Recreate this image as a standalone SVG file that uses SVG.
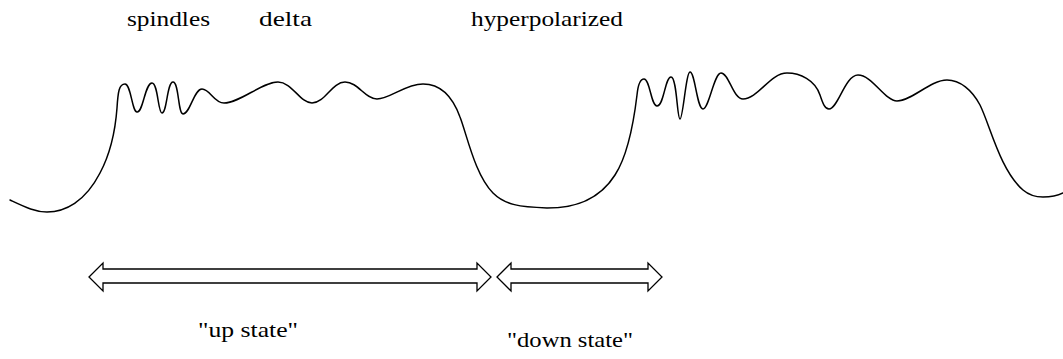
<svg xmlns="http://www.w3.org/2000/svg" width="1063" height="359" viewBox="0 0 1063 359">
<style>
text{font-family:"Times New Roman","Liberation Serif","DejaVu Serif",serif;font-size:22px;fill:#000}
.wave{fill:none;stroke:#000;stroke-width:1.5;stroke-linejoin:round;stroke-linecap:round}
.arr{fill:#fff;stroke:#000;stroke-width:1.3;stroke-linejoin:miter}
</style>
<rect width="1063" height="359" fill="#fff"/>
<g id="trace">
<path class="wave" d="M10,200 C25,207 35,212 47,212 C65,212 85,202 100,173 C108,158 115,135 117,108 C118,92 119,84 125,84 C131,84 132,112 137,112 C143,113 145,83 152,83 C158,83 158,113 162,113 C167,113 167,82 173,82 C179,82 178,114 183,114 C190,114 194,89 202,89 C210,89 214,103 224,103 C240,103 262,82 278,82 C292,82 300,103 312,103 C325,103 332,82 345,82 C358,82 365,99 377,99 C390,99 405,84 423,84 C440,84 452,95 460,117 C467,135 475,175 493,193 C505,205 520,207 547,208 C572,208 598,202 615,175 C628,155 634,120 637,95 C638,85 640,79 644,79 C650,79 651,106 657,106 C664,106 665,77 671,77 C677,77 677,119 680,119 C683,119 686,72 690,72 C695,72 697,109 703,109 C709,109 714,73 721,73 C729,73 733,99 743,99 C758,99 770,73 787,73 C800,73 815,80 820,95 C823,104 825,109 829,109 C838,109 845,75 858,75 C872,75 885,101 897,101 C912,101 930,80 947,80 C960,80 972,90 980,105 C990,125 1000,170 1023,190 C1030,196 1036,197 1043,197 C1050,197 1057,196 1063,193"/>
</g>
<g id="label-spindles"><text x="127" y="26" textLength="83" lengthAdjust="spacingAndGlyphs">spindles</text></g>
<g id="label-delta"><text x="259" y="26" textLength="53" lengthAdjust="spacingAndGlyphs">delta</text></g>
<g id="label-hyperpolarized"><text x="471" y="26" textLength="152" lengthAdjust="spacingAndGlyphs">hyperpolarized</text></g>
<g id="connectors">
<polygon id="arrow-up" class="arr" points="89,277 103,263 103,269 477,269 477,263 491,277 477,291 477,283 103,283 103,291"/>
<polygon id="arrow-down" class="arr" points="497,277 511,263 511,269 648,269 648,263 662,277 648,291 648,283 511,283 511,291"/>
</g>
<g id="label-up"><text x="198" y="337" textLength="100" lengthAdjust="spacingAndGlyphs">"up state"</text></g>
<g id="label-down"><text x="507" y="347" textLength="126" lengthAdjust="spacingAndGlyphs">"down state"</text></g>
</svg>
